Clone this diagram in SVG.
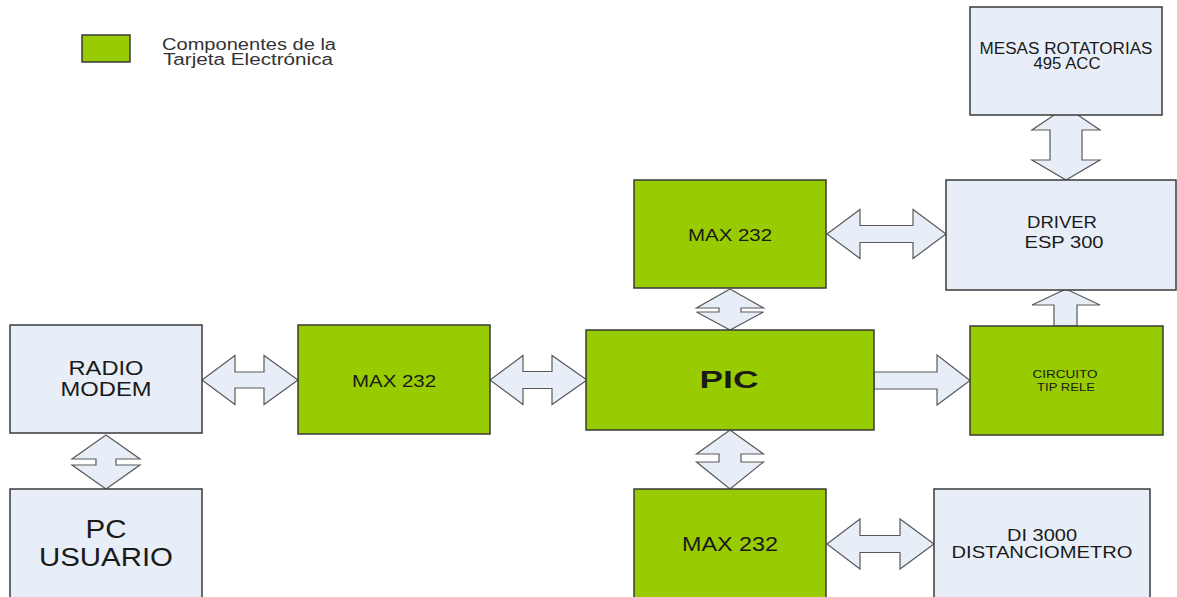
<svg xmlns="http://www.w3.org/2000/svg" width="1177" height="597" viewBox="0 0 1177 597">
<style>
.g{fill:#99CC00;stroke:#3a3a3a;stroke-width:1.5}
.b{fill:#E8EEF8;stroke:#3a3a3a;stroke-width:1.5}
.a{fill:#E8EEF8;stroke:#5a5a5a;stroke-width:1.2;stroke-linejoin:miter}
text{font-family:"Liberation Sans",Arial,sans-serif;fill:#1a1a1a;text-anchor:middle}
.l{text-anchor:start;fill:#333}
</style>
<rect width="1177" height="597" fill="#ffffff"/>
<g id="legend">
<rect class="g" x="82" y="35" width="48" height="27"/>
<text class="l" x="162" y="50" font-size="16" textLength="174" lengthAdjust="spacingAndGlyphs">Componentes de la</text>
<text class="l" x="163" y="65" font-size="16" textLength="170" lengthAdjust="spacingAndGlyphs">Tarjeta Electrónica</text>
</g>
<g id="connectors">
<path class="a" d="M202,380 L235,355.5 L235,372 L264,372 L264,355.5 L298,380 L264,404.5 L264,388 L235,388 L235,404.5 Z"/>
<path class="a" d="M490,380 L523,355.5 L523,371.5 L552,371.5 L552,355.5 L587,380 L552,404.5 L552,388.5 L523,388.5 L523,404.5 Z"/>
<path class="a" d="M827,234 L860,209.5 L860,225.5 L913,225.5 L913,209.5 L946,234 L913,258.5 L913,242.5 L860,242.5 L860,258.5 Z"/>
<path class="a" d="M827,544 L860,519 L860,535.5 L900,535.5 L900,519 L934,544 L900,569 L900,552.5 L860,552.5 L860,569 Z"/>
<path class="a" d="M1066,107 L1100,130 L1082,130 L1082,160 L1100,160 L1066,180 L1032,160 L1050,160 L1050,130 L1032,130 Z"/>
<path class="a" d="M730,289 L763.5,308 L741,308 L741,312 L763.5,312 L730,330 L696.5,312 L719,312 L719,308 L696.5,308 Z"/>
<path class="a" d="M730,430 L763.5,454 L741,454 L741,462 L763.5,462 L730,489 L696.5,462 L719,462 L719,454 L696.5,454 Z"/>
<path class="a" d="M106,435 L140,459 L116,459 L116,465 L140,465 L106,489 L72,465 L96,465 L96,459 L72,459 Z"/>
<path class="a" d="M874,372 L937,372 L937,355 L970,380.5 L937,405 L937,389 L874,389 Z"/>
<path class="a" d="M1066,289 L1100,305 L1077,305 L1077,326 L1054,326 L1054,305 L1032,305 Z"/>
</g>
<g id="mesas">
<rect class="b" x="970" y="7" width="192" height="108"/>
<text x="1066" y="54" font-size="16" textLength="173" lengthAdjust="spacingAndGlyphs">MESAS ROTATORIAS</text>
<text x="1067" y="69" font-size="16" textLength="67" lengthAdjust="spacingAndGlyphs">495 ACC</text>
</g>
<g id="driver">
<rect class="b" x="946" y="180" width="230" height="110"/>
<text x="1062" y="228" font-size="16" textLength="70" lengthAdjust="spacingAndGlyphs">DRIVER</text>
<text x="1064" y="248" font-size="16" textLength="79" lengthAdjust="spacingAndGlyphs">ESP 300</text>
</g>
<g id="max-top">
<rect class="g" x="634" y="180" width="192" height="108"/>
<text x="730" y="241" font-size="17" textLength="84" lengthAdjust="spacingAndGlyphs">MAX 232</text>
</g>
<g id="radio">
<rect class="b" x="10" y="325" width="192" height="108"/>
<text x="106" y="375" font-size="19.5" textLength="75" lengthAdjust="spacingAndGlyphs">RADIO</text>
<text x="106" y="396" font-size="19.5" textLength="91" lengthAdjust="spacingAndGlyphs">MODEM</text>
</g>
<g id="max-left">
<rect class="g" x="298" y="325" width="192" height="109"/>
<text x="394" y="387" font-size="17" textLength="84" lengthAdjust="spacingAndGlyphs">MAX 232</text>
</g>
<g id="pic">
<rect class="g" x="586" y="330" width="288" height="100"/>
<text x="729" y="388" font-size="24" font-weight="bold" textLength="59" lengthAdjust="spacingAndGlyphs">PIC</text>
</g>
<g id="circuito">
<rect class="g" x="970" y="326" width="193" height="109"/>
<text x="1065" y="378" font-size="11.5" textLength="65" lengthAdjust="spacingAndGlyphs">CIRCUITO</text>
<text x="1066" y="391" font-size="11.5" textLength="58" lengthAdjust="spacingAndGlyphs">TIP RELE</text>
</g>
<g id="pc">
<rect class="b" x="10" y="489" width="192" height="112"/>
<text x="106" y="538" font-size="25" textLength="41" lengthAdjust="spacingAndGlyphs">PC</text>
<text x="106" y="566" font-size="25" textLength="134" lengthAdjust="spacingAndGlyphs">USUARIO</text>
</g>
<g id="max-bottom">
<rect class="g" x="634" y="489" width="192" height="112"/>
<text x="730" y="551" font-size="19.5" textLength="96" lengthAdjust="spacingAndGlyphs">MAX 232</text>
</g>
<g id="di3000">
<rect class="b" x="934" y="489" width="216" height="112"/>
<text x="1042" y="541" font-size="16.5" textLength="70" lengthAdjust="spacingAndGlyphs">DI 3000</text>
<text x="1042" y="558" font-size="16.5" textLength="181" lengthAdjust="spacingAndGlyphs">DISTANCIOMETRO</text>
</g>
</svg>
